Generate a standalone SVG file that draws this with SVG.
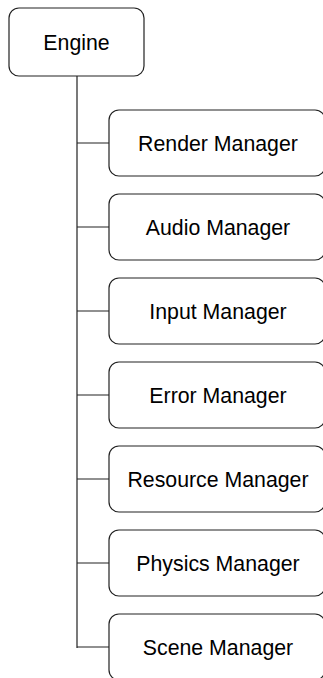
<svg xmlns="http://www.w3.org/2000/svg" width="323" height="678" viewBox="0 0 323 678">
<style>
.box{fill:#fff;stroke:#222;stroke-width:1.2}
.t{font-family:"Liberation Sans",Arial,sans-serif;font-size:21.3px;fill:#000;text-anchor:middle}
.c{fill:none;stroke:#222;stroke-width:1.2}
</style>
<rect width="323" height="678" fill="#fff"/>
<g id="connectors">
<path class="c" d="M77 76V648M77 143H109M77 227H109M77 311H109M77 395H109M77 479H109M77 563H109M77 647H109"/>
</g>
<g id="engine"><rect class="box" x="9" y="8" width="135" height="68" rx="10"/><text class="t" x="76.5" y="49.5">Engine</text></g>
<g id="render"><rect class="box" x="109" y="110" width="216" height="66" rx="10"/><text class="t" x="218" y="150.5">Render Manager</text></g>
<g id="audio"><rect class="box" x="109" y="194" width="216" height="66" rx="10"/><text class="t" x="218" y="234.5">Audio Manager</text></g>
<g id="input"><rect class="box" x="109" y="278" width="216" height="66" rx="10"/><text class="t" x="218" y="318.5">Input Manager</text></g>
<g id="error"><rect class="box" x="109" y="362" width="216" height="66" rx="10"/><text class="t" x="218" y="402.5">Error Manager</text></g>
<g id="resource"><rect class="box" x="109" y="446" width="216" height="66" rx="10"/><text class="t" x="218" y="486.5">Resource Manager</text></g>
<g id="physics"><rect class="box" x="109" y="530" width="216" height="66" rx="10"/><text class="t" x="218" y="570.5">Physics Manager</text></g>
<g id="scene"><rect class="box" x="109" y="614" width="216" height="66" rx="10"/><text class="t" x="218" y="654.5">Scene Manager</text></g>
</svg>
